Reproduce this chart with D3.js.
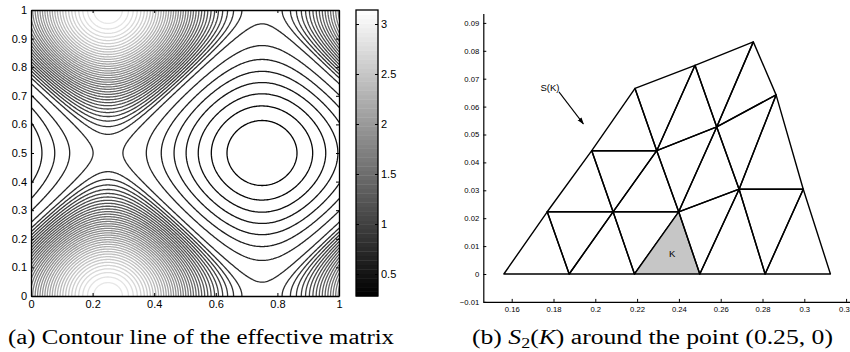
<!DOCTYPE html>
<html><head><meta charset="utf-8">
<script src="https://cdn.jsdelivr.net/npm/d3@7"></script>
<style>
body{margin:0;background:#fff}
svg{display:block}
.tk text{font-family:"Liberation Sans",Arial,Helvetica,sans-serif;fill:#000}
.cap{font-family:"Liberation Serif","Times New Roman",serif;fill:#000}
</style>
</head><body>
<svg id="c" width="850" height="352"></svg>
<script>
// ================= DATA =================
// (a) contour field of s = sin(2πx) + cos(2πy), mapped onto the value range
//     f = vmin + (vmax - vmin) * (lin*t + (1-lin)*(2*max(0, t-0.5))^pow),  t = (s+2)/4
const fieldShape = [0.356, 1.3];                    // lin, pow
const valueRange = [0.28, 3.14];                    // colour limits (colorbar)
const levelCount = 45;                              // number of contour levels
const contourXTicks = [0, 0.2, 0.4, 0.6, 0.8, 1];
const contourYTicks = [0, 0.1, 0.2, 0.3, 0.4, 0.5, 0.6, 0.7, 0.8, 0.9, 1];
const colorbarTicks = [0.5, 1, 1.5, 2, 2.5, 3];

// (b) mesh patch S2(K)
const meshXTicks = [0.16, 0.18, 0.2, 0.22, 0.24, 0.26, 0.28, 0.3, 0.32];
const meshXLabels = ["0.16", "0.18", "0.2", "0.22", "0.24", "0.26", "0.28", "0.3", "0.32"];
const meshYTicks = [-0.01, 0, 0.01, 0.02, 0.03, 0.04, 0.05, 0.06, 0.07, 0.08, 0.09];
const meshYLabels = ["\u22120.01", "0", "0.01", "0.02", "0.03", "0.04", "0.05", "0.06", "0.07", "0.08", "0.09"];
const meshVertX = [0.15625, 0.1875, 0.21875, 0.25, 0.28125, 0.3125,
                   0.1770, 0.2085, 0.2399, 0.2688, 0.2995,
                   0.1983, 0.2294, 0.2581, 0.2865,
                   0.2190, 0.2477, 0.2756];
const meshVertY = [0, 0, 0, 0, 0, 0,
                   0.0223, 0.0223, 0.0223, 0.0304, 0.0304,
                   0.0442, 0.0442, 0.0527, 0.0642,
                   0.0665, 0.0748, 0.0832];
const meshTriangles = [[0,1,6],[1,6,7],[1,2,7],[2,7,8],[2,3,8],[3,8,9],[3,4,9],[4,9,10],[4,5,10],
                       [6,7,11],[7,11,12],[7,8,12],[8,12,13],[8,9,13],[9,13,14],[9,10,14],
                       [11,12,15],[12,15,16],[12,13,16],[13,16,17],[13,14,17]];
const shadedTriangle = 4;   // K
const annotLabels = ["S(K)", "K"];
const annotX = [0.1783, 0.2368];
const annotY = [0.0668, 0.0075];
const arrowFrom = [0.1826, 0.0653];
const arrowTo = [0.1943, 0.0538];

const captionA = "(a) Contour line of the effective matrix";

// ================= DRAW =================
const svg = d3.select("#c");

// ---------- (a) contour plot ----------
const xC = d3.scaleLinear().domain([0, 1]).range([31, 339]);
const yC = d3.scaleLinear().domain([0, 1]).range([296, 10]);
const gray = d3.scaleLinear().domain(valueRange).range(["#000", "#fff"]).clamp(true);
const lineGray = d3.scaleLinear().domain(valueRange).range(["#000", "#ececec"]).clamp(true);

function field(x, y) {
  const [lin, pw] = fieldShape;
  const s = Math.sin(2 * Math.PI * x) + Math.cos(2 * Math.PI * y);
  const t = (s + 2) / 4;
  const g = lin * t + (1 - lin) * Math.pow(Math.max(0, 2 * t - 1), pw);
  return valueRange[0] + (valueRange[1] - valueRange[0]) * g;
}
const g0 = -0.02, g1 = 1.02, n = 281, st = (g1 - g0) / (n - 1);
const vals = new Float64Array(n * n);
for (let j = 0; j < n; j++) for (let i = 0; i < n; i++) vals[j * n + i] = field(g0 + i * st, g0 + j * st);
const levels = d3.range(1, levelCount + 1).map(k => valueRange[0] + k * (valueRange[1] - valueRange[0]) / (levelCount + 1));
const conts = d3.contours().size([n, n]).thresholds(levels)(vals);
const proj = d3.geoTransform({point: function (cx, cy) {
  this.stream.point(xC(g0 + (cx - 0.5) * st), yC(g0 + (cy - 0.5) * st));
}});
const cpath = d3.geoPath(proj);

svg.append("clipPath").attr("id", "clipA").append("rect")
  .attr("x", xC(0)).attr("y", yC(1)).attr("width", xC(1) - xC(0)).attr("height", yC(0) - yC(1));
svg.append("g").attr("clip-path", "url(#clipA)")
  .selectAll("path").data(conts).join("path")
  .attr("d", cpath).attr("fill", "none")
  .attr("stroke", d => lineGray(d.value)).attr("stroke-width", 1.3);

// frame + ticks (inward on all 4 sides)
const axA = svg.append("g").attr("class", "tk");
axA.append("g").attr("transform", `translate(0,${yC(0)})`)
  .call(d3.axisBottom(xC).tickValues(contourXTicks).tickSize(-3).tickSizeOuter(0).tickPadding(4).tickFormat(d => String(d)));
axA.append("g").attr("transform", `translate(0,${yC(1)})`)
  .call(d3.axisTop(xC).tickValues(contourXTicks).tickSize(-3).tickSizeOuter(0).tickFormat(""));
axA.append("g").attr("transform", `translate(${xC(0)},0)`)
  .call(d3.axisLeft(yC).tickValues(contourYTicks).tickSize(-3).tickSizeOuter(0).tickPadding(4).tickFormat(d => String(d)));
axA.append("g").attr("transform", `translate(${xC(1)},0)`)
  .call(d3.axisRight(yC).tickValues(contourYTicks).tickSize(-3).tickSizeOuter(0).tickFormat(""));
axA.selectAll("text").style("font-size", "11px");
axA.selectAll("path.domain").attr("stroke", "#000").attr("stroke-width", 1.3);
axA.selectAll(".tick line").attr("stroke", "#000");

// colorbar
const yCB = d3.scaleLinear().domain(valueRange).range([296, 10]);
const nb = 64;
const bands = d3.range(nb);
svg.append("g").selectAll("rect").data(bands).join("rect")
  .attr("x", 356).attr("width", 22)
  .attr("y", k => yCB(valueRange[0] + (k + 1) * (valueRange[1] - valueRange[0]) / nb))
  .attr("height", (yCB.range()[0] - yCB.range()[1]) / nb + 0.4)
  .attr("fill", k => gray(valueRange[0] + (k + 0.5) / nb * (valueRange[1] - valueRange[0])));
const axCB = svg.append("g").attr("class", "tk");
axCB.append("g").attr("transform", "translate(378,0)")
  .call(d3.axisRight(yCB).tickValues(colorbarTicks).tickSize(-3).tickSizeOuter(0).tickPadding(3).tickFormat(d => String(d)));
axCB.append("g").attr("transform", "translate(356,0)")
  .call(d3.axisLeft(yCB).tickValues(colorbarTicks).tickSize(-3).tickSizeOuter(0).tickFormat(""));
axCB.selectAll("text").style("font-size", "11px");
axCB.selectAll("path.domain").attr("stroke", "none");
axCB.selectAll(".tick line").attr("stroke", "#000");
svg.append("rect").attr("x", 356).attr("y", 10).attr("width", 22).attr("height", 286)
  .attr("fill", "none").attr("stroke", "#000").attr("stroke-width", 1.3);

// ---------- (b) mesh ----------
const xM = d3.scaleLinear().domain([0.14641, 0.33]).range([483.3, 483.3 + (0.33 - 0.14641) * 2090]);
const yM = d3.scaleLinear().domain([-0.01, 0.0934]).range([301.9, 301.9 - 0.1034 * 2790]);

const tri = meshTriangles.map((t, i) => ({pts: t.map(k => [xM(meshVertX[k]), yM(meshVertY[k])]), i}));
svg.append("g").selectAll("path").data(tri).join("path")
  .attr("d", d => "M" + d.pts.map(p => p.join(",")).join("L") + "Z")
  .attr("fill", d => d.i === shadedTriangle ? "#c6c6c6" : "none")
  .attr("stroke", "#000").attr("stroke-width", 1.4).attr("stroke-linejoin", "round");

const axB = svg.append("g").attr("class", "tk");
axB.append("g").attr("transform", `translate(0,${yM(-0.01)})`)
  .call(d3.axisBottom(xM).tickValues(meshXTicks).tickSize(-3).tickSizeOuter(0).tickPadding(4.6)
    .tickFormat((d, i) => meshXLabels[i]));
axB.append("g").attr("transform", `translate(${xM(0.14641)},0)`)
  .call(d3.axisLeft(yM).tickValues(meshYTicks).tickSize(-3).tickSizeOuter(0).tickPadding(4)
    .tickFormat((d, i) => meshYLabels[i]));
axB.selectAll("text").style("font-size", "7.7px");
axB.selectAll("path.domain").attr("stroke", "#000").attr("stroke-width", 1.2);
axB.selectAll(".tick line").attr("stroke", "#000");

// annotations
svg.append("g").selectAll("text").data(annotLabels).join("text")
  .attr("x", (d, i) => xM(annotX[i])).attr("y", (d, i) => yM(annotY[i]))
  .attr("text-anchor", "middle").attr("dominant-baseline", "central")
  .style("font-family", "'Liberation Sans',Arial,sans-serif").style("font-size", "9.5px")
  .text(d => d);
const defs = svg.append("defs");
defs.append("marker").attr("id", "ah").attr("viewBox", "0 0 10 10").attr("refX", 9).attr("refY", 5)
  .attr("markerWidth", 7).attr("markerHeight", 7).attr("markerUnits", "userSpaceOnUse").attr("orient", "auto")
  .append("path").attr("d", "M0,1.5L10,5L0,8.5Z").attr("fill", "#000");
svg.append("line")
  .attr("x1", xM(arrowFrom[0])).attr("y1", yM(arrowFrom[1]))
  .attr("x2", xM(arrowTo[0])).attr("y2", yM(arrowTo[1]))
  .attr("stroke", "#000").attr("stroke-width", 1.1).attr("marker-end", "url(#ah)");

// ---------- captions ----------
svg.append("text").attr("class", "cap").attr("x", 8).attr("y", 344)
  .attr("textLength", 386).attr("lengthAdjust", "spacingAndGlyphs")
  .style("font-size", "20px").text(captionA);
const cb = svg.append("text").attr("class", "cap").attr("x", 472).attr("y", 344)
  .attr("textLength", 361).attr("lengthAdjust", "spacingAndGlyphs").style("font-size", "20px");
cb.append("tspan").text("(b) ");
cb.append("tspan").style("font-style", "italic").text("S");
cb.append("tspan").attr("dy", 4).style("font-size", "14px").text("2");
cb.append("tspan").attr("dy", -4).text("(");
cb.append("tspan").style("font-style", "italic").text("K");
cb.append("tspan").text(") around the point (0.25, 0)");
</script>
</body></html>
